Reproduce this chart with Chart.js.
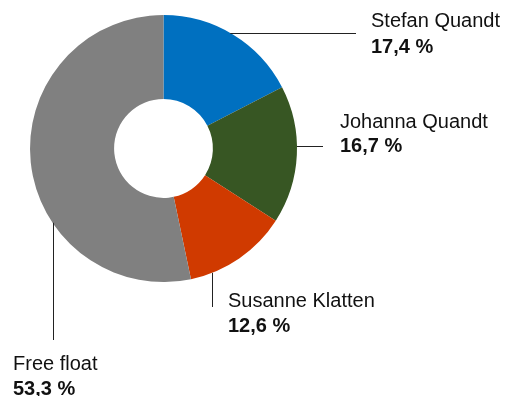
<!DOCTYPE html>
<html>
<head>
<meta charset="utf-8">
<script src="https://cdn.jsdelivr.net/npm/chart.js@4/dist/chart.umd.min.js"></script>
<style>
html,body{margin:0;padding:0;background:#fff;}
canvas{display:block;}
</style>
</head>
<body>
<canvas id="c" width="506" height="396"></canvas>
<script>
// Data
const categories = ["Stefan Quandt", "Johanna Quandt", "Susanne Klatten", "Free float"];
const shares = [17.4, 16.7, 12.6, 53.3];
const colors = ["#0070C0", "#375623", "#D03A00", "#808080"];

// Label/leader layout (annotation only)
const leaderLayout = [
  {angle: 30,    dir: "h", end: 356, tx: 371, y1: 27,  y2: 53},
  {angle: 89,    dir: "h", end: 323, tx: 340, y1: 128, y2: 152},
  {angle: 158.7, dir: "v", end: 307, tx: 228, y1: 307, y2: 332},
  {angle: 236.2, dir: "v", end: 340, tx: 13,  y1: 370, y2: 395}
];

const fmt = v => v.toFixed(1).replace('.', ',') + ' %';

const labelPlugin = {
  id: 'leaders',
  afterDraw(chart) {
    const ctx = chart.ctx;
    const meta = chart.getDatasetMeta(0);
    ctx.save();
    meta.data.forEach((arc, i) => {
      const L = leaderLayout[i];
      const a = L.angle * Math.PI / 180;
      const r = arc.outerRadius;
      const x0 = arc.x + r * Math.sin(a);
      const y0 = arc.y - r * Math.cos(a);
      ctx.strokeStyle = '#222';
      ctx.lineWidth = 1;
      ctx.beginPath();
      if (L.dir === 'h') {
        const yy = Math.round(y0) + 0.5;
        ctx.moveTo(x0, yy);
        ctx.lineTo(L.end, yy);
      } else {
        const xx = Math.round(x0) + 0.5;
        ctx.moveTo(xx, y0);
        ctx.lineTo(xx, L.end);
      }
      ctx.stroke();
      ctx.fillStyle = '#111';
      ctx.textBaseline = 'alphabetic';
      ctx.textAlign = 'left';
      ctx.font = '20px "Liberation Sans", Arial, sans-serif';
      ctx.fillText(categories[i], L.tx, L.y1);
      ctx.font = 'bold 20px "Liberation Sans", Arial, sans-serif';
      ctx.fillText(fmt(shares[i]), L.tx, L.y2);
    });
    ctx.restore();
  }
};

new Chart(document.getElementById('c'), {
  type: 'doughnut',
  data: {
    labels: categories,
    datasets: [{
      data: shares,
      backgroundColor: colors,
      borderWidth: 0
    }]
  },
  options: {
    responsive: false,
    animation: false,
    devicePixelRatio: 1,
    cutout: '37%',
    layout: {padding: {left: 30, right: 209, top: 15, bottom: 114}},
    plugins: {legend: {display: false}, tooltip: {enabled: false}}
  },
  plugins: [labelPlugin]
});
</script>
</body>
</html>
